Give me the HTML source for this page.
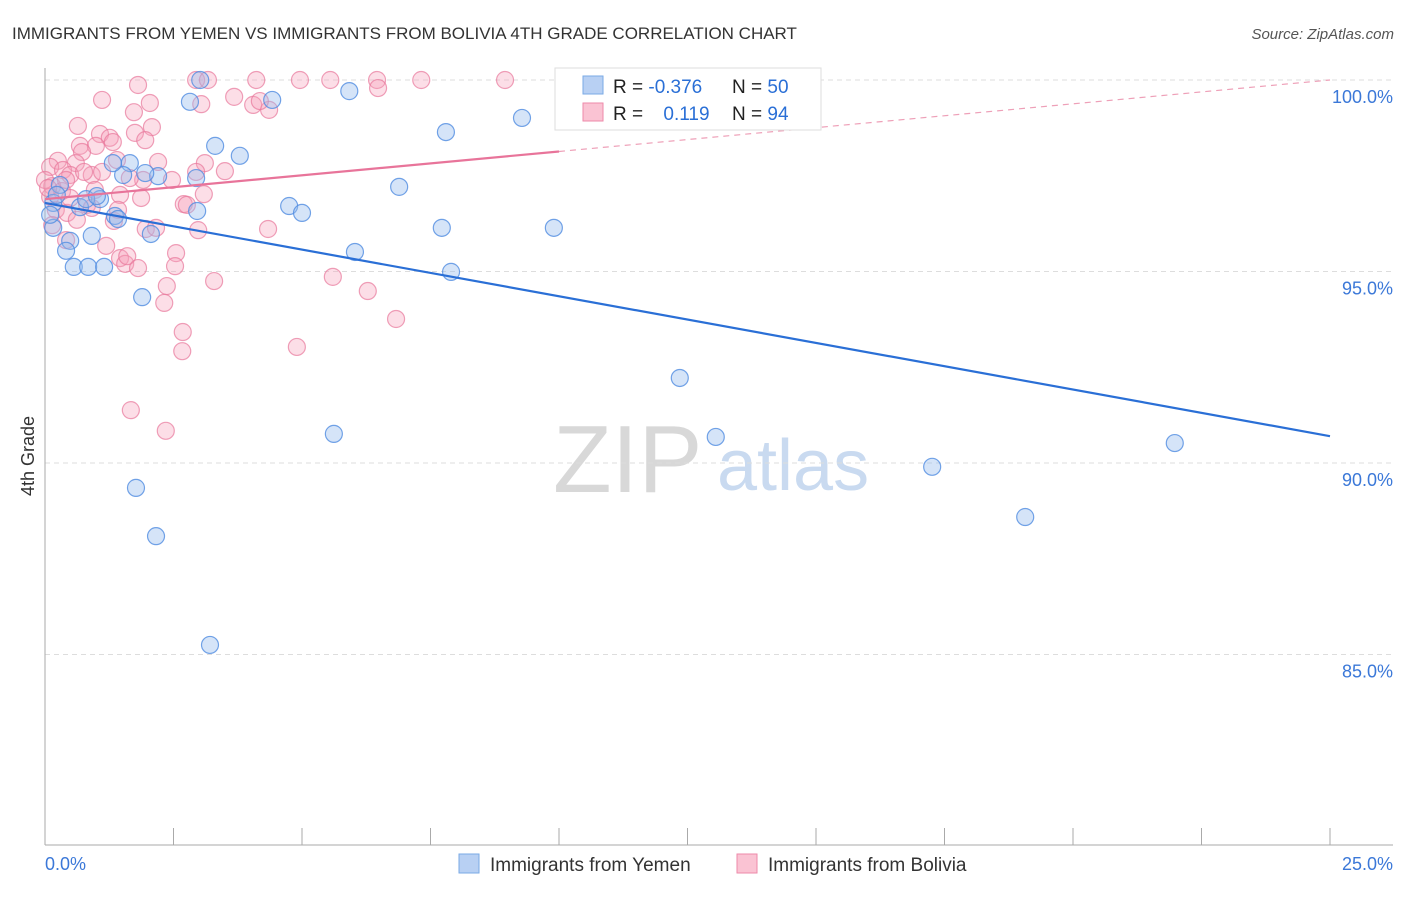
<!DOCTYPE html>
<html><head><meta charset="utf-8"><style>
body{margin:0;background:#fff;font-family:"Liberation Sans",sans-serif;}
svg text{font-family:"Liberation Sans",sans-serif;}
</style></head><body>
<svg id="chart" width="1406" height="892" xmlns="http://www.w3.org/2000/svg">
<text x="12" y="39" font-size="17" fill="#333">IMMIGRANTS FROM YEMEN VS IMMIGRANTS FROM BOLIVIA 4TH GRADE CORRELATION CHART</text>
<text x="1394" y="39" font-size="15" fill="#555" text-anchor="end" font-style="italic">Source: ZipAtlas.com</text>
<text x="0" y="0" font-size="18" fill="#333" text-anchor="middle" transform="translate(34,456) rotate(-90)">4th Grade</text>
<g>
<text x="553" y="492" font-size="96" fill="#d8d8d8" font-family="Liberation Serif">ZIP</text>
<text x="717" y="490" font-size="72" fill="#c9daf0">atlas</text>
</g>
<g id="grid"></g>
<g id="axes"></g>
<g id="points"></g>
<g id="lines"></g>
<g>
<rect x="555" y="68" width="266" height="62" fill="#fff" stroke="#ddd"/>
<rect x="583" y="76" width="20" height="18" fill="#b8d0f3" stroke="#7aaae6"/>
<rect x="583" y="103" width="20" height="18" fill="#fac3d3" stroke="#ee8aaa"/>
<text x="613" y="93" font-size="19" fill="#222">R = <tspan fill="#2a6fd6">-0.376</tspan></text>
<text x="732" y="93" font-size="19" fill="#222">N = <tspan fill="#2a6fd6">50</tspan></text>
<text x="613" y="120" font-size="19" fill="#222">R = <tspan fill="#2a6fd6" dx="15">0.119</tspan></text>
<text x="732" y="120" font-size="19" fill="#222">N = <tspan fill="#2a6fd6">94</tspan></text>
</g>
<g>
<rect x="459" y="854" width="20" height="19" fill="#b8d0f3" stroke="#7aaae6"/>
<text x="490" y="871" font-size="19" fill="#333">Immigrants from Yemen</text>
<rect x="737" y="854" width="20" height="19" fill="#fac3d3" stroke="#ee8aaa"/>
<text x="768" y="871" font-size="19" fill="#333">Immigrants from Bolivia</text>
</g>
</svg>
<script>
const yTicks=[100,95,90,85];
const yTickLabels=["100.0%","95.0%","90.0%","85.0%"];
const xTicks=[0,2.5,5,7.5,10,12.5,15,17.5,20,22.5,25];
const yemenX=[2.82,3.02,4.42,5.92,7.80,9.28,3.31,3.79,1.65,1.52,2.20,1.95,1.32,2.94,6.89,4.75,5.00,2.96,1.36,1.07,0.68,0.16,0.16,0.91,0.49,0.41,2.06,0.56,0.84,1.15,1.89,6.03,7.72,9.90,7.90,12.35,5.62,13.05,1.77,2.16,17.26,19.07,21.98,3.21,0.29,0.10,0.23,0.80,1.42,1.01];
const yemenY=[99.43,100,99.48,99.71,98.64,99.01,98.28,98.02,97.83,97.52,97.49,97.57,97.83,97.44,97.21,96.71,96.53,96.58,96.45,96.89,96.68,96.79,96.14,95.93,95.80,95.54,95.98,95.12,95.12,95.12,94.33,95.51,96.14,96.14,94.99,92.22,90.76,90.68,89.35,88.09,89.90,88.59,90.52,85.25,97.26,96.48,97.00,96.89,96.37,96.97];
const boliviaX=[1.81,2.94,3.17,4.11,4.96,5.55,6.46,7.32,8.95,6.48,1.11,2.04,3.04,3.68,4.05,4.36,1.73,0.64,2.08,1.07,1.75,1.26,0.68,1.32,0.99,0.72,0.25,0.60,0.10,0.35,0.91,0.49,2.20,3.11,3.50,2.94,1.40,1.91,2.47,0.14,0.33,0.97,1.46,1.87,2.70,2.76,0,0.10,0.21,0.43,0.82,0.91,0.62,1.34,1.96,2.16,2.98,4.34,0.41,1.19,1.46,1.56,1.60,1.81,2.55,2.53,3.29,2.37,2.32,5.60,6.28,6.83,2.68,2.67,4.90,1.67,2.35,0.49,0.14,1.42,1.95,4.18,0.76,3.09,0.06,0.41,1.11,1.65];
const boliviaY=[99.87,100,100,100,100,100,100,100,100,99.79,99.48,99.40,99.37,99.56,99.35,99.22,99.16,98.80,98.77,98.59,98.62,98.49,98.28,98.38,98.28,98.12,97.89,97.83,97.73,97.65,97.52,97.52,97.86,97.83,97.62,97.60,97.91,97.39,97.39,97.23,97.10,97.13,97.00,96.92,96.76,96.74,97.39,96.95,96.61,96.53,96.74,96.66,96.35,96.32,96.11,96.14,96.08,96.11,95.82,95.67,95.35,95.20,95.40,95.09,95.48,95.14,94.75,94.62,94.18,94.86,94.49,93.76,93.42,92.92,93.03,91.38,90.84,96.92,96.21,96.61,98.43,99.45,97.60,97.02,97.18,97.39,97.60,97.44];
const yemenTrend=[96.79,90.70];
const boliviaTrend=[96.89,100.0];
const ns="http://www.w3.org/2000/svg";
const X0=45,X1=1330,Y100=80,PX5=191.5;
function sx(v){return X0+(v/25)*(X1-X0);}
function sy(v){return Y100+(100-v)/5*PX5;}
function mk(tag,attrs,parent){const e=document.createElementNS(ns,tag);for(const k in attrs)e.setAttribute(k,attrs[k]);parent.appendChild(e);return e;}
const grid=document.getElementById('grid'),axes=document.getElementById('axes'),pts=document.getElementById('points'),lines=document.getElementById('lines');
yTicks.forEach((t,i)=>{
 const l=mk('line',{x1:X0,x2:1393,y1:sy(t),y2:sy(t),stroke:'#ddd','stroke-dasharray':'5,4'},grid);
 
 
 const tx=mk('text',{x:1393,y:sy(t)+23,'font-size':18,fill:'#3b78d8','text-anchor':'end'},axes);
 tx.textContent=yTickLabels[i];
 
 
});
const ya=mk('line',{x1:X0,x2:X0,y1:68,y2:845,stroke:'#aaa'},axes);


const xa=mk('line',{x1:X0,x2:1393,y1:845,y2:845,stroke:'#aaa'},axes);


xTicks.forEach(t=>{
 const l=mk('line',{x1:sx(t),x2:sx(t),y1:828,y2:845,stroke:'#aaa'},axes);
 
 
});
const xl0=mk('text',{x:45,y:870,'font-size':18,fill:'#3b78d8'},axes);xl0.textContent='0.0%';


const xl1=mk('text',{x:1393,y:870,'font-size':18,fill:'#3b78d8','text-anchor':'end'},axes);xl1.textContent='25.0%';


boliviaX.forEach((x,i)=>{
 const c=mk('circle',{cx:sx(x),cy:sy(boliviaY[i]),r:8.5,fill:'rgba(246,160,186,0.35)',stroke:'rgba(232,120,155,0.7)','stroke-width':1.2},pts);
 
 
});
yemenX.forEach((x,i)=>{
 const c=mk('circle',{cx:sx(x),cy:sy(yemenY[i]),r:8.5,fill:'rgba(150,188,238,0.4)',stroke:'rgba(80,140,225,0.8)','stroke-width':1.2},pts);
 
 
});
const yl=mk('line',{x1:sx(0),y1:sy(yemenTrend[0]),x2:sx(25),y2:sy(yemenTrend[1]),stroke:'#2a6fd6','stroke-width':2.2},lines);


const bMid=boliviaTrend[0]+(boliviaTrend[1]-boliviaTrend[0])*(10/25);
const bl=mk('line',{x1:sx(0),y1:sy(boliviaTrend[0]),x2:sx(10),y2:sy(bMid),stroke:'#e8749a','stroke-width':2.2},lines);


const bd=mk('line',{x1:sx(10),y1:sy(bMid),x2:sx(25),y2:sy(boliviaTrend[1]),stroke:'#eea0b8','stroke-width':1.2,'stroke-dasharray':'6,5'},lines);


</script>
</body></html>
